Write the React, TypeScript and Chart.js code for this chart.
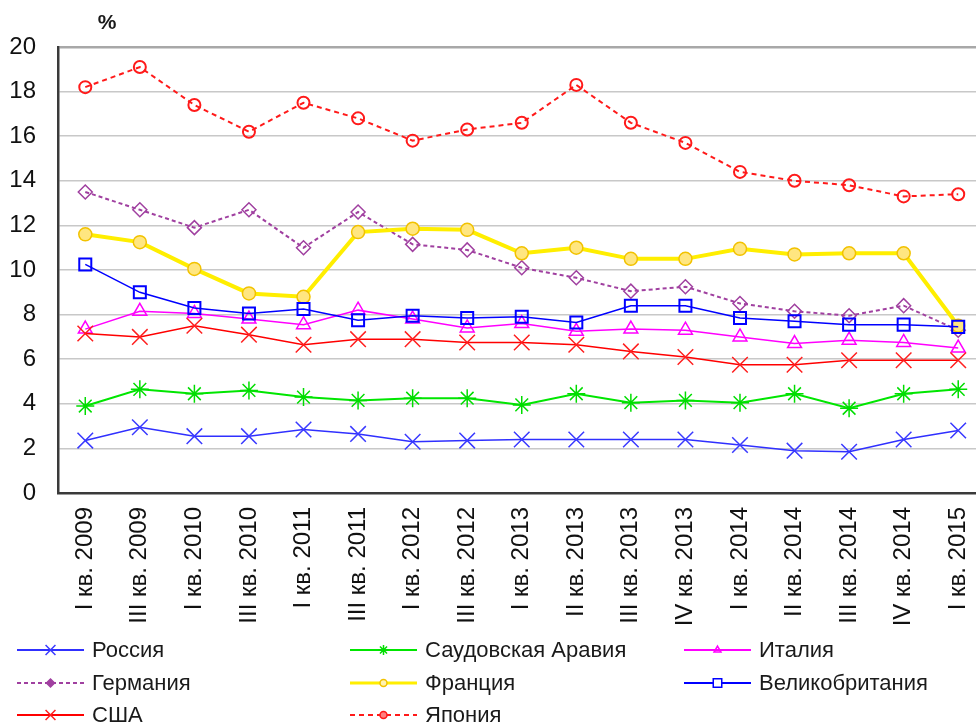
import React, { useEffect, useRef } from 'react';
import { Chart, registerables } from 'chart.js';
import { drawPoint } from 'chart.js/helpers';

Chart.register(...registerables);

const categories = [
  'I кв. 2009', 'III кв. 2009', 'I кв. 2010', 'III кв. 2010', 'I кв. 2011', 'III кв. 2011',
  'I кв. 2012', 'III кв. 2012', 'I кв. 2013', 'II кв. 2013', 'III кв. 2013', 'IV кв. 2013',
  'I кв. 2014', 'II кв. 2014', 'III кв. 2014', 'IV кв. 2014', 'I кв. 2015',
];

const seriesNames = ['Россия', 'Саудовская Аравия', 'Италия', 'Германия', 'Франция', 'Великобритания', 'США', 'Япония'];

const russia = [2.35, 2.95, 2.55, 2.55, 2.85, 2.65, 2.3, 2.35, 2.4, 2.4, 2.4, 2.4, 2.15, 1.9, 1.85, 2.4, 2.8];
const saudiArabia = [3.9, 4.65, 4.45, 4.6, 4.3, 4.15, 4.25, 4.25, 3.95, 4.45, 4.05, 4.15, 4.05, 4.45, 3.8, 4.45, 4.65];
const italy = [7.35, 8.15, 8.05, 7.8, 7.55, 8.2, 7.8, 7.4, 7.6, 7.25, 7.35, 7.3, 7.0, 6.7, 6.85, 6.75, 6.5];
const germany = [13.5, 12.7, 11.9, 12.7, 11.0, 12.6, 11.15, 10.9, 10.1, 9.65, 9.05, 9.25, 8.5, 8.15, 7.95, 8.4, 7.3];
const france = [11.6, 11.25, 10.05, 8.95, 8.8, 11.7, 11.85, 11.8, 10.75, 11.0, 10.5, 10.5, 10.95, 10.7, 10.75, 10.75, 7.5];
const uk = [10.25, 9.0, 8.3, 8.05, 8.25, 7.75, 7.95, 7.85, 7.9, 7.65, 8.4, 8.4, 7.85, 7.7, 7.55, 7.55, 7.45];
const usa = [7.15, 7.0, 7.5, 7.1, 6.65, 6.9, 6.9, 6.75, 6.75, 6.65, 6.35, 6.1, 5.75, 5.75, 5.95, 5.95, 5.95];
const japan = [18.2, 19.1, 17.4, 16.2, 17.5, 16.8, 15.8, 16.3, 16.6, 18.3, 16.6, 15.7, 14.4, 14.0, 13.8, 13.3, 13.4];

const yTicks = [0, 2, 4, 6, 8, 10, 12, 14, 16, 18, 20];
const yUnit = '%';

const FONT = '"Liberation Sans", Arial, sans-serif';
const HOLLOW = 'rgba(255,255,255,0)';

const legendPlugin = {
  id: 'gridLegend',
  afterDraw(chart: any) {
    const ctx = chart.ctx;
    const area = chart.chartArea;
    ctx.save();
    ctx.font = `bold 21px ${FONT}`;
    ctx.fillStyle = '#1a1a1a';
    ctx.textAlign = 'center';
    ctx.textBaseline = 'middle';
    ctx.fillText(yUnit, area.left + 49, area.top - 24);

    const colX = [17, 350, 684];
    const rowY = [650, 683, 715];
    const lineLen = 67;
    chart.data.datasets.forEach((ds: any, i: number) => {
      const x0 = colX[i % 3];
      const y = rowY[Math.floor(i / 3)];
      const x1 = x0 + lineLen;
      ctx.strokeStyle = ds.borderColor;
      ctx.lineWidth = ds.legendLineWidth;
      ctx.setLineDash(ds.borderDash || []);
      ctx.beginPath();
      ctx.moveTo(x0, y);
      ctx.lineTo(x1, y);
      ctx.stroke();
      ctx.setLineDash([]);
      ctx.strokeStyle = ds.pointBorderColor;
      ctx.fillStyle = ds.legendFill;
      ctx.lineWidth = 1.5;
      drawPoint(ctx, { pointStyle: ds.pointStyle, radius: ds.legendRadius, rotation: 0, borderWidth: 1.5 }, (x0 + x1) / 2, y);
      ctx.font = `22px ${FONT}`;
      ctx.fillStyle = '#1a1a1a';
      ctx.textAlign = 'left';
      ctx.textBaseline = 'middle';
      ctx.fillText(ds.label, x1 + 8, y + 1);
    });
    ctx.restore();
  },
};

export default function App() {
  const ref = useRef<HTMLCanvasElement>(null);

  useEffect(() => {
    if (!ref.current) return;
    const mk = (i: number, data: number[], o: any) => ({
      label: seriesNames[i],
      data,
      order: 10 - i,
      fill: false,
      tension: 0,
      ...o,
    });
    const datasets = [
      mk(0, russia, { borderColor: '#3030ff', pointBorderColor: '#3a3aff', pointBackgroundColor: HOLLOW, borderWidth: 1.5, pointStyle: 'crossRot', pointRadius: 11, pointBorderWidth: 1.5, legendRadius: 7, legendFill: HOLLOW, legendLineWidth: 2 }),
      mk(1, saudiArabia, { borderColor: '#00e600', pointBorderColor: '#00dd00', pointBackgroundColor: HOLLOW, borderWidth: 2, pointStyle: 'star', pointRadius: 9, pointBorderWidth: 1.5, legendRadius: 5, legendFill: HOLLOW, legendLineWidth: 2 }),
      mk(2, italy, { borderColor: '#ff00ff', pointBorderColor: '#ff00ff', pointBackgroundColor: HOLLOW, borderWidth: 1.5, pointStyle: 'triangle', pointRadius: 8, pointBorderWidth: 1.5, legendRadius: 4, legendFill: HOLLOW, legendLineWidth: 2 }),
      mk(3, germany, { borderColor: '#a040a0', pointBorderColor: '#a040a0', pointBackgroundColor: HOLLOW, borderWidth: 2, borderDash: [4, 3], pointStyle: 'rectRot', pointRadius: 7, pointBorderWidth: 1.5, legendRadius: 4, legendFill: '#a040a0', legendLineWidth: 2 }),
      mk(4, france, { borderColor: '#ffee00', pointBorderColor: '#f2c200', pointBackgroundColor: '#ffe680', borderWidth: 4, pointStyle: 'circle', pointRadius: 6.5, pointBorderWidth: 1.5, legendRadius: 3.5, legendFill: '#fff3b0', legendLineWidth: 3 }),
      mk(5, uk, { borderColor: '#0000ff', pointBorderColor: '#0000ff', pointBackgroundColor: HOLLOW, borderWidth: 1.5, pointStyle: 'rect', pointRadius: 8.5, pointBorderWidth: 2, legendRadius: 6, legendFill: '#ffffff', legendLineWidth: 2 }),
      mk(6, usa, { borderColor: '#ff0000', pointBorderColor: '#ff2020', pointBackgroundColor: HOLLOW, borderWidth: 1.5, pointStyle: 'crossRot', pointRadius: 11, pointBorderWidth: 1.5, legendRadius: 7, legendFill: HOLLOW, legendLineWidth: 2 }),
      mk(7, japan, { borderColor: '#ff1a1a', pointBorderColor: '#ff1a1a', pointBackgroundColor: HOLLOW, borderWidth: 2, borderDash: [5, 4], pointStyle: 'circle', pointRadius: 6, pointBorderWidth: 2, legendRadius: 3.5, legendFill: '#ff8080', legendLineWidth: 2 }),
    ];

    const chart = new Chart(ref.current, {
      type: 'line',
      data: { labels: categories, datasets },
      plugins: [legendPlugin],
      options: {
        responsive: false,
        animation: false,
        devicePixelRatio: 1,
        layout: { padding: { top: 47, left: 0, right: 0, bottom: 0 } },
        plugins: {
          legend: { display: false },
          tooltip: { enabled: false },
          title: { display: false },
        },
        scales: {
          x: {
            type: 'category',
            offset: true,
            grid: { display: true, color: 'rgba(0,0,0,0)', drawTicks: false },
            border: { display: true, color: '#3a3a3a', width: 2.5 },
            ticks: {
              minRotation: 90,
              maxRotation: 90,
              autoSkip: false,
              padding: 14,
              color: '#111',
              font: { family: FONT, size: 24 },
            },
            afterFit: (scale: any) => {
              scale.height = 231;
              scale.paddingLeft = 0;
              scale.paddingRight = 0;
            },
          },
          y: {
            min: 0,
            max: 20,
            afterBuildTicks: (scale: any) => { scale.ticks = yTicks.map((v) => ({ value: v })); },
            grid: {
              color: (c: any) => (c.tick && c.tick.value === 20 ? '#a8a8a8' : '#c8c8c8'),
              lineWidth: (c: any) => (c.tick && c.tick.value === 20 ? 2.5 : 1.5),
              drawTicks: false,
            },
            border: { display: true, color: '#3a3a3a', width: 2.5 },
            ticks: {
              padding: 22,
              color: '#111',
              font: { family: FONT, size: 24 },
            },
            afterFit: (scale: any) => { scale.width = 58; },
          },
        },
      },
    });
    return () => chart.destroy();
  }, []);

  return (
    <div style={{ position: 'absolute', left: 0, top: 0, width: 976, height: 724, overflow: 'hidden', background: '#fff' }}>
      <canvas ref={ref} width={998} height={724} style={{ width: 998, height: 724, display: 'block' }} />
    </div>
  );
}
